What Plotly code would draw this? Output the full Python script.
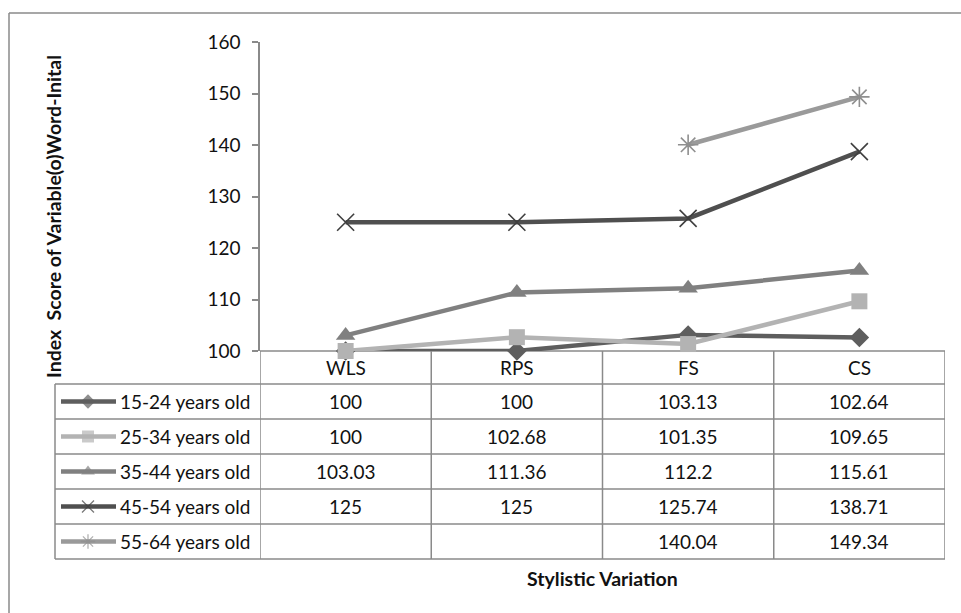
import plotly.graph_objects as go

# Data
categories = ["WLS", "RPS", "FS", "CS"]
series_names = ["15-24 years old", "25-34 years old", "35-44 years old",
                "45-54 years old", "55-64 years old"]
s15_24 = [100, 100, 103.13, 102.64]
s25_34 = [100, 102.68, 101.35, 109.65]
s35_44 = [103.03, 111.36, 112.2, 115.61]
s45_54 = [125, 125, 125.74, 138.71]
s55_64 = [None, None, 140.04, 149.34]
series_values = [s15_24, s25_34, s35_44, s45_54, s55_64]
y_ticks = [100, 110, 120, 130, 140, 150, 160]

# Styles
W, H = 961, 613
FONT = "Lato"
AXIS_GREY = "#8a8a8a"
line_colors = ["#5e5e5e", "#b3b3b3", "#808080", "#4f4f4f", "#9a9a9a"]
marker_colors = ["#5e5e5e", "#b3b3b3", "#808080", "#3f3f3f", "#8f8f8f"]
symbols = ["diamond", "square", "triangle-up", "x-thin-open", "asterisk-open"]
msizes = [15, 16, 17, 17, 17]
mlinew = [0, 0, 0, 1.6, 1.6]


def px(x):
    return x / W


def py(y):
    return 1 - y / H


plot_left, plot_right = 260, 945
plot_top, plot_bottom = 42, 351
table_left = 55
row_lines = [384, 419, 454, 489, 524, 559]
row_centers = [(row_lines[i] + row_lines[i + 1]) / 2 for i in range(5)]
header_center = (plot_bottom + row_lines[0]) / 2

fig = go.Figure()

for name, vals, lc, mc, sym, ms, mlw in zip(series_names, series_values, line_colors,
                                             marker_colors, symbols, msizes, mlinew):
    marker = dict(symbol=sym, size=ms, color=mc, line=dict(color=mc, width=mlw))
    fig.add_trace(go.Scatter(
        x=categories, y=vals, name=name, mode="lines+markers",
        line=dict(color=lc, width=4.5), marker=marker,
        cliponaxis=False, showlegend=False, connectgaps=False,
    ))

# Legend keys in the first table column (pixel-unit axes spanning the page)
key_x0, key_x1, key_xm = 61, 116, 88
key_sizes = [11, 12, 12, 12, 12]
for i, (lc, mc, sym, mlw, ks) in enumerate(zip(line_colors, marker_colors, symbols,
                                                mlinew, key_sizes)):
    yc = row_centers[i]
    marker = dict(symbol=sym, size=[0, ks, 0], color=mc,
                  line=dict(color=mc, width=mlw * 0.8))
    fig.add_trace(go.Scatter(
        x=[key_x0, key_xm, key_x1], y=[yc, yc, yc], mode="lines+markers",
        line=dict(color=lc, width=4.5), marker=marker,
        xaxis="x2", yaxis="y2", showlegend=False, hoverinfo="skip",
        cliponaxis=False,
    ))

shapes = []
line_style = dict(color=AXIS_GREY, width=1.5)
# outer frame (left and top edges)
shapes.append(dict(type="line", xref="paper", yref="paper", x0=px(9), x1=px(W + 5),
                   y0=py(13), y1=py(13), line=line_style))
shapes.append(dict(type="line", xref="paper", yref="paper", x0=px(9), x1=px(9),
                   y0=py(13), y1=py(H + 5), line=line_style))
# table horizontal lines
for yl in row_lines:
    shapes.append(dict(type="line", xref="paper", yref="paper", x0=px(table_left),
                       x1=px(plot_right), y0=py(yl), y1=py(yl), line=line_style))
# table top edge / x baseline
shapes.append(dict(type="line", xref="paper", yref="paper", x0=px(plot_left),
                   x1=px(plot_right), y0=py(plot_bottom), y1=py(plot_bottom),
                   line=line_style))
# table vertical lines
shapes.append(dict(type="line", xref="paper", yref="paper", x0=px(table_left),
                   x1=px(table_left), y0=py(row_lines[0]), y1=py(row_lines[-1]),
                   line=line_style))
for b in [-0.5, 0.5, 1.5, 2.5, 3.5]:
    shapes.append(dict(type="line", xref="x", yref="paper", x0=b, x1=b,
                       y0=py(plot_bottom), y1=py(row_lines[-1]), line=line_style))
for s in shapes:
    s["layer"] = "below"

annotations = []
TXT = "#111111"
tfont = dict(family=FONT, size=19, color=TXT)
for c in categories:
    annotations.append(dict(x=c, xref="x", y=py(header_center), yref="paper",
                            xanchor="center", yanchor="middle",
                            text=c, showarrow=False, font=tfont))
for i, (name, vals) in enumerate(zip(series_names, series_values)):
    annotations.append(dict(x=px(118), xref="paper", y=py(row_centers[i]), yref="paper",
                            xanchor="left", yanchor="middle",
                            text=name, showarrow=False, font=tfont))
    for c, v in zip(categories, vals):
        if v is None:
            continue
        annotations.append(dict(x=c, xref="x", y=py(row_centers[i]), yref="paper",
                                xanchor="center", yanchor="middle",
                                text=f"{v:g}", showarrow=False, font=tfont))
# axis titles
annotations.append(dict(x=px(602), xref="paper", y=py(578), yref="paper",
                        xanchor="center", yanchor="middle",
                        text="<b>Stylistic Variation</b>", showarrow=False,
                        font=dict(family=FONT, size=19.5, color=TXT)))
annotations.append(dict(x=px(53), xref="paper", y=py(217), yref="paper",
                        xanchor="center", yanchor="middle",
                        text="<b>Index  Score of Variable(o)Word-Inital</b>",
                        showarrow=False, textangle=-90,
                        font=dict(family=FONT, size=19.5, color=TXT)))

fig.update_layout(
    template="none",
    width=W, height=H, margin=dict(l=0, r=0, t=0, b=0, autoexpand=False),
    paper_bgcolor="white", plot_bgcolor="rgba(0,0,0,0)",
    font=dict(family=FONT, size=19, color=TXT),
    showlegend=False,
    xaxis=dict(domain=[px(plot_left), px(plot_right)], type="category",
               categoryorder="array", categoryarray=categories,
               range=[-0.5, 3.5], showticklabels=False, ticks="",
               showline=False, showgrid=False, zeroline=False, fixedrange=True,
               automargin=False),
    yaxis=dict(domain=[py(plot_bottom), py(plot_top)], range=[100, 160],
               tickvals=y_ticks, ticks="outside", ticklen=6, tickcolor=AXIS_GREY,
               tickwidth=1.5, showline=True, linecolor=AXIS_GREY, linewidth=1.5,
               showgrid=False, zeroline=False, ticklabelstandoff=8,
               tickfont=dict(family=FONT, size=19, color=TXT), fixedrange=True,
               automargin=False),
    xaxis2=dict(domain=[0, 1], range=[0, W], visible=False, anchor="y2",
                fixedrange=True, automargin=False),
    yaxis2=dict(domain=[0, 1], range=[H, 0], visible=False, anchor="x2",
                fixedrange=True, automargin=False),
    shapes=shapes, annotations=annotations,
)

fig.write_html("out.html")
